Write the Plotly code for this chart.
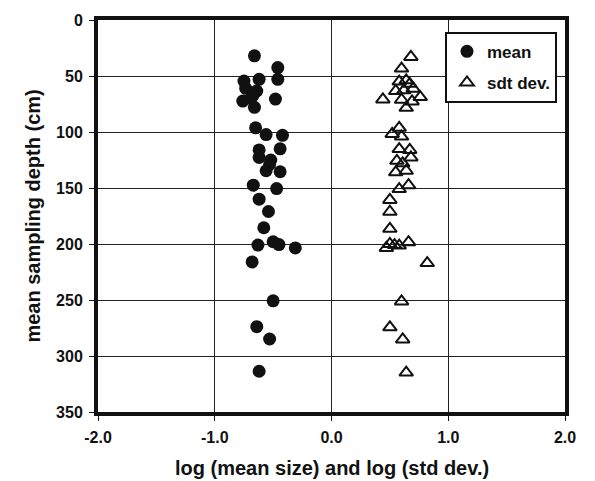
import plotly.graph_objects as go

mean_x = [-0.66, -0.46, -0.46, -0.75, -0.62, -0.735, -0.64, -0.67, -0.76, -0.66, -0.48, -0.69,
          -0.65, -0.56, -0.42, -0.62, -0.44, -0.62, -0.52, -0.56, -0.53, -0.44, -0.67, -0.47,
          -0.62, -0.54, -0.58, -0.63, -0.50, -0.45, -0.31, -0.68, -0.50, -0.64, -0.53, -0.62]
mean_y = [32, 42.5, 53, 54.5, 53, 61, 63.4, 67, 72.4, 78, 70.6, 70,
          96.3, 102.3, 103, 116, 115, 122.7, 125, 134.6, 129, 135.5, 147.5, 150.5,
          160, 171, 185.5, 201, 198, 200.5, 203.5, 216, 250.7, 273.8, 284.8, 313.6]

sd_x = [0.68, 0.60, 0.64, 0.58, 0.67, 0.55, 0.62, 0.70, 0.44, 0.60, 0.76, 0.69, 0.64,
        0.58, 0.52, 0.60, 0.58, 0.67, 0.68, 0.56, 0.61, 0.64, 0.55, 0.58, 0.66,
        0.50, 0.50, 0.50, 0.47, 0.50, 0.58, 0.66, 0.54, 0.82, 0.60, 0.50, 0.61, 0.64]
sd_y = [33, 43.4, 53.9, 55, 57, 63.4, 62.8, 61.3, 70.9, 71.2, 68.8, 72.7, 78.4,
        96.3, 101.7, 104.1, 115.2, 116, 122.7, 125.7, 128, 134.6, 136, 151, 147.5,
        160.7, 171.2, 186.4, 203.5, 200, 201.4, 198.4, 201, 217, 251.3, 274.4, 285.2, 314.8]

x_ticks = [-2.0, -1.0, 0.0, 1.0, 2.0]
y_ticks = [0, 50, 100, 150, 200, 250, 300, 350]

x_title = "log (mean size) and log (std dev.)"
y_title = "mean sampling depth (cm)"

FONT = "Liberation Sans, Arial, sans-serif"

fig = go.Figure()
fig.add_trace(go.Scatter(
    x=mean_x, y=mean_y, mode="markers", name="<b>mean</b>", legendgroup="a",
    marker=dict(symbol="circle", size=13, color="#111111", line=dict(width=0))))
fig.add_trace(go.Scatter(
    x=sd_x, y=sd_y, mode="markers", name="<b>sdt dev.</b>", legendgroup="b",
    marker=dict(symbol="triangle-up-open", size=12, color="#111111",
                line=dict(width=2, color="#111111"))))

fig.update_layout(
    width=595, height=481,
    margin=dict(l=90, r=38, t=12, b=77, autoexpand=False),
    paper_bgcolor="white", plot_bgcolor="white",
    font=dict(family=FONT, size=16, color="#111111"),
    showlegend=True,
    legend=dict(x=0.743, y=0.97, xanchor="left", yanchor="top",
                bordercolor="#111111", borderwidth=2, bgcolor="white",
                font=dict(family=FONT, size=17, color="#111111"),
                itemwidth=30, entrywidth=80, tracegroupgap=6),
    annotations=[
        dict(text="<b>%s</b>" % x_title, xref="paper", yref="paper",
             x=0.5, y=-0.142, xanchor="center", yanchor="middle",
             showarrow=False, font=dict(family=FONT, size=20, color="#111111")),
        dict(text="<b>%s</b>" % y_title, xref="paper", yref="paper",
             x=-0.140, y=0.5, xanchor="center", yanchor="middle", textangle=-90,
             showarrow=False, font=dict(family=FONT, size=20, color="#111111")),
    ],
)
fig.update_xaxes(
    range=[-2, 2], tickvals=x_ticks, ticktext=["<b>%.1f</b>" % v for v in x_ticks],
    showgrid=True, gridcolor="#222222", gridwidth=1, zeroline=False,
    showline=True, linecolor="#111111", linewidth=4, mirror=True,
    ticks="outside", ticklen=5, tickcolor="#111111", tickwidth=1,
    ticklabelstandoff=3, automargin=False,
    tickfont=dict(size=16),
)
fig.update_yaxes(
    range=[350, 0], tickvals=y_ticks, ticktext=["<b>%d</b>" % v for v in y_ticks],
    showgrid=True, gridcolor="#222222", gridwidth=1, zeroline=False,
    showline=True, linecolor="#111111", linewidth=4, mirror=True,
    ticks="outside", ticklen=5, tickcolor="#111111", tickwidth=1,
    ticklabelstandoff=3, automargin=False,
    tickfont=dict(size=16),
)

fig.write_html("out.html")
